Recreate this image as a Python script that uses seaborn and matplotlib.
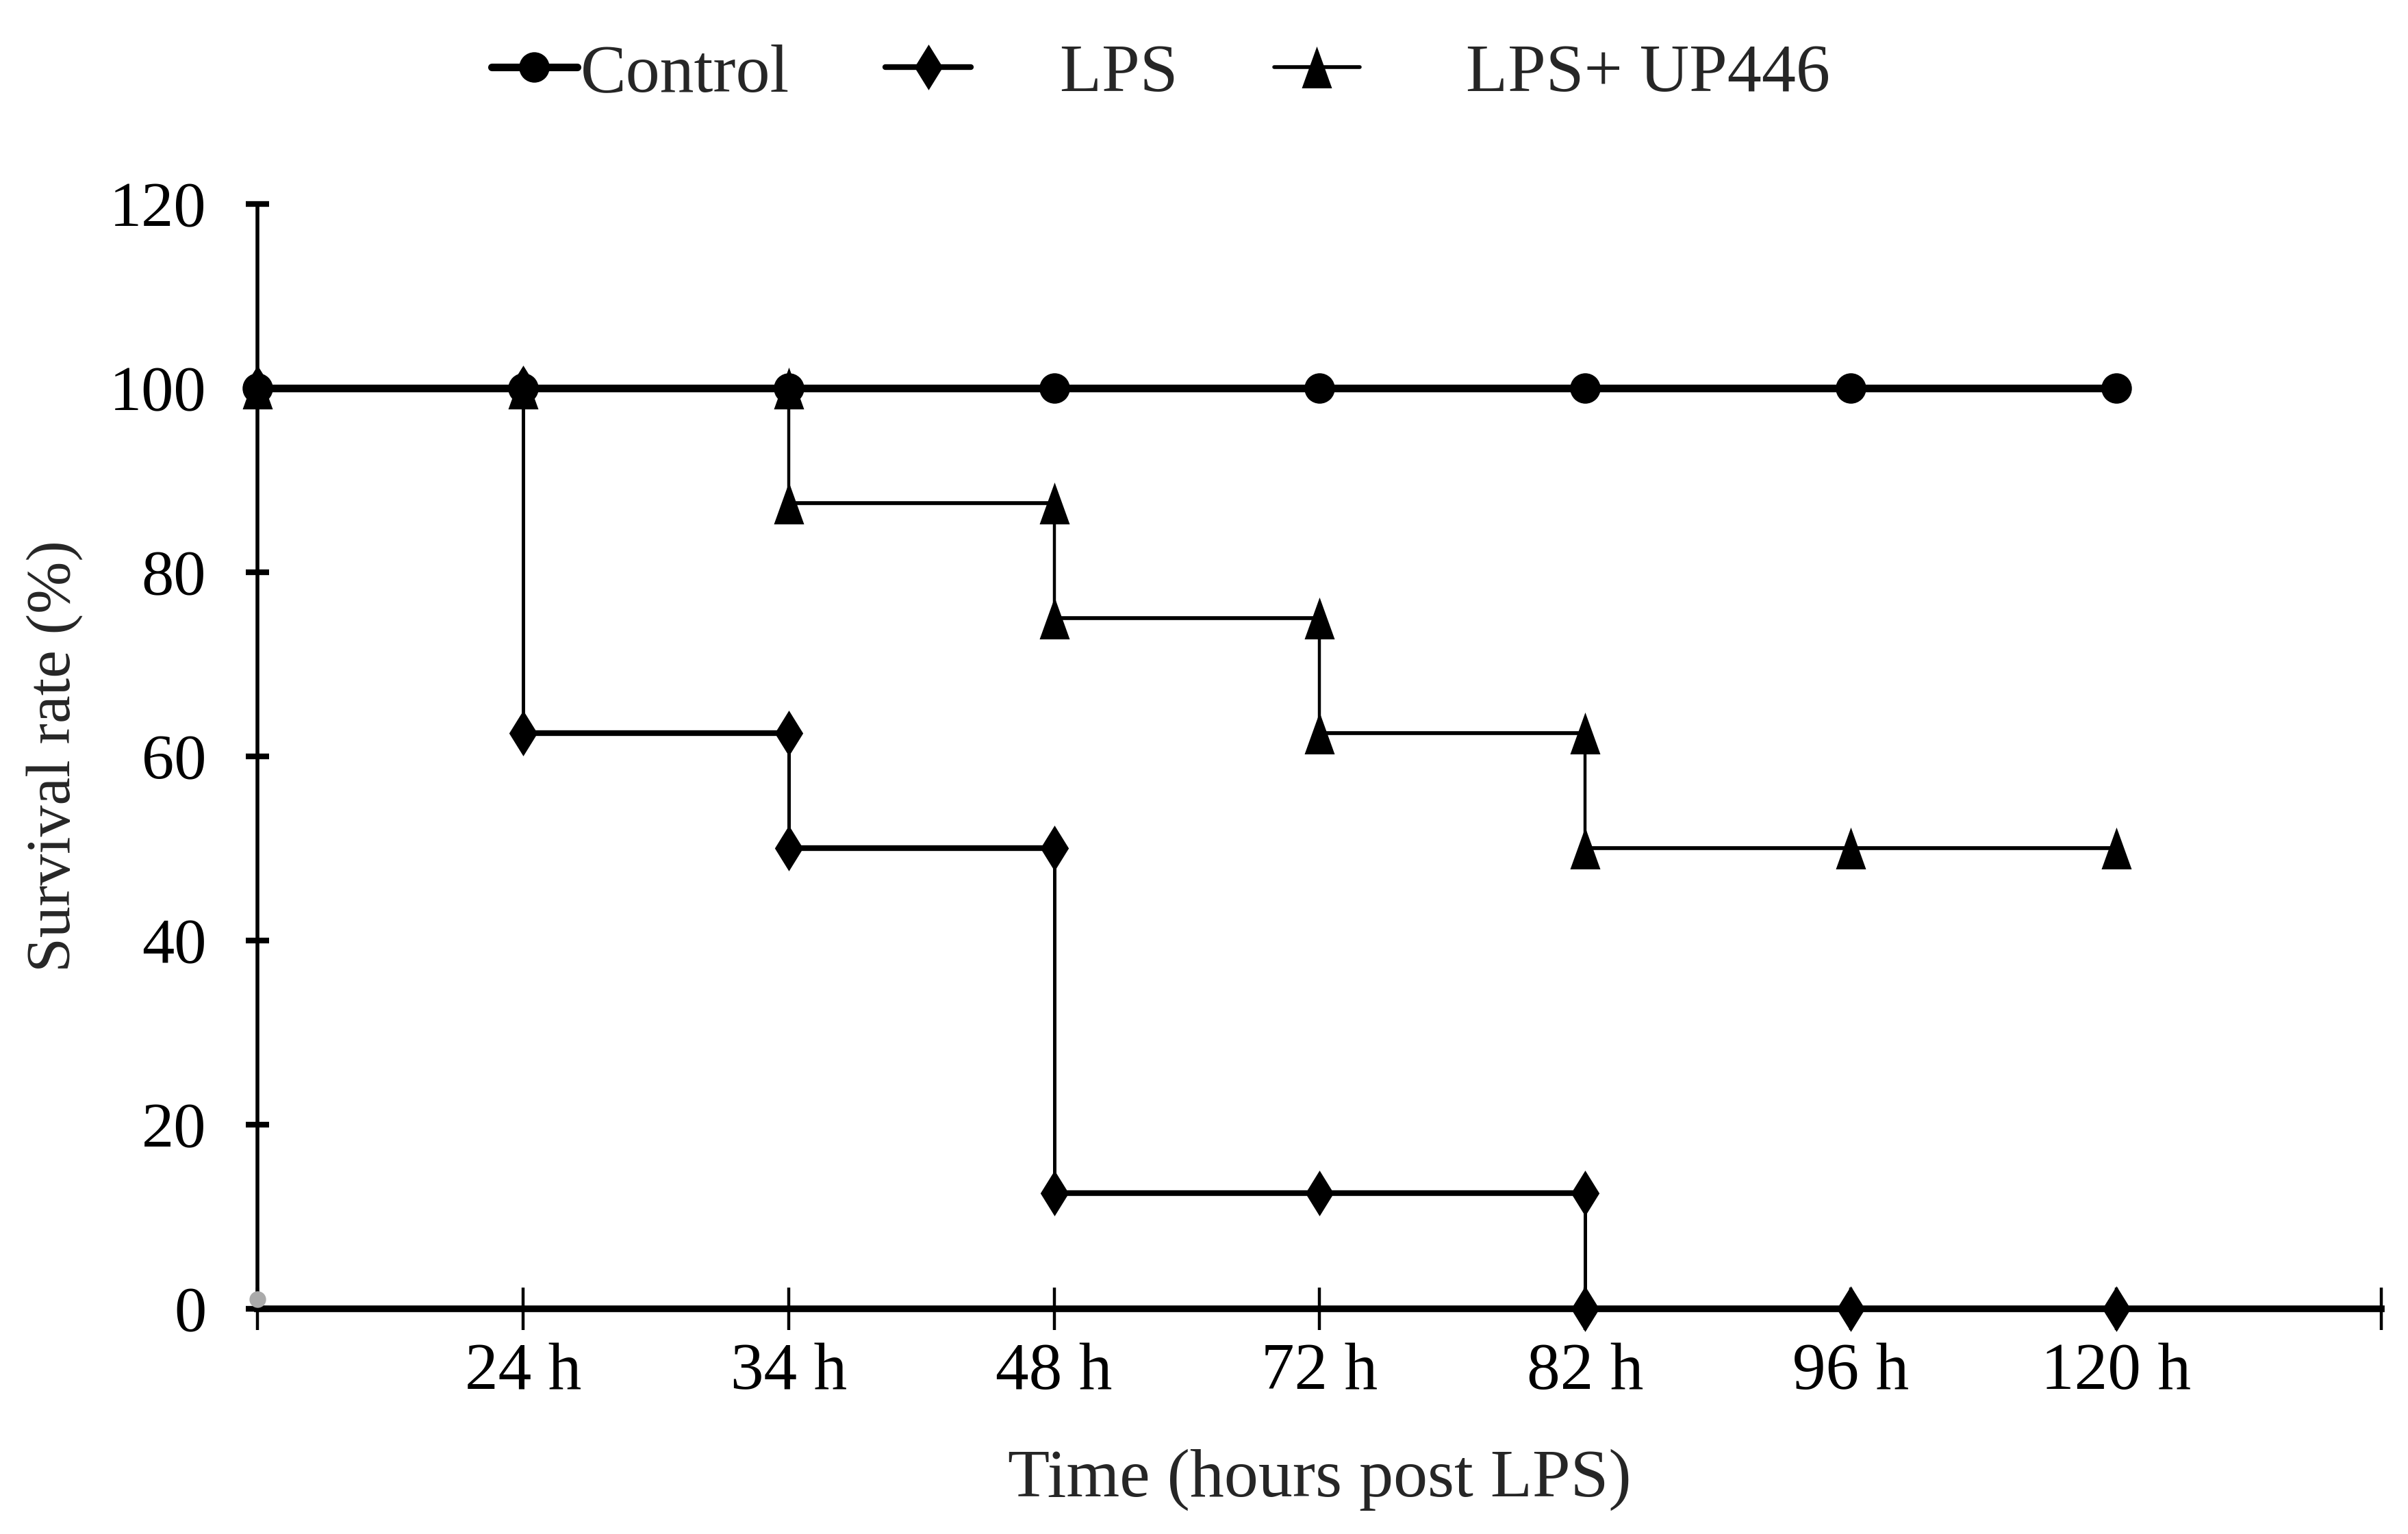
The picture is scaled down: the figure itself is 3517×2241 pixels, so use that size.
import matplotlib
matplotlib.use("Agg")
import matplotlib.pyplot as plt
import seaborn as sns
import pandas as pd

# time points are drawn at equal spacing (category index)
time_labels = ["", "24 h", "34 h", "48 h", "72 h", "82 h", "96 h", "120 h", ""]

# each step is stored as two points at the same time (before / after the drop)
control_x = [0, 1, 2, 3, 4, 5, 6, 7]
control_y = [100, 100, 100, 100, 100, 100, 100, 100]

lps_x = [0, 1, 1, 2, 2, 3, 3, 4, 5, 5, 6, 7]
lps_y = [100, 100, 62.5, 62.5, 50, 50, 12.5, 12.5, 12.5, 0, 0, 0]

up446_x = [0, 1, 2, 2, 3, 3, 4, 4, 5, 5, 6, 7]
up446_y = [100, 100, 100, 87.5, 87.5, 75, 75, 62.5, 62.5, 50, 50, 50]

origin_x = [0]
origin_y = [1]

sns.set_theme(style="white")
plt.rcParams["font.family"] = ["Liberation Serif", "DejaVu Serif"]

diamond = [(0, 1), (0.62, 0), (0, -1), (-0.62, 0)]
triangle = [(-0.72, -1), (0.72, -1), (0, 1)]

fig = plt.figure(figsize=(17.585, 11.205), dpi=200)
ax = fig.add_axes([0.107, 0.147, 0.882, 0.72])

series = [
    ("Control", control_x, control_y, "o", 16, 4.0, 4.0),
    ("     LPS", lps_x, lps_y, diamond, 24, 1.8, 3.0),
    ("      LPS+ UP446", up446_x, up446_y, triangle, 22, 1.6, 2.0),
]

handles = []
for label, xs, ys, mk, ms, lw_v, lw_h in series:
    df = pd.DataFrame({"x": xs, "y": ys})
    sns.lineplot(data=df, x="x", y="y", sort=False, estimator=None, ax=ax,
                 color="black", lw=lw_v, marker=mk, markersize=ms,
                 markeredgewidth=0, legend=False, zorder=4, clip_on=False)
    # horizontal runs look heavier in the original figure
    for i in range(len(xs) - 1):
        if ys[i] == ys[i + 1]:
            ax.plot([xs[i], xs[i + 1]], [ys[i], ys[i + 1]], color="black",
                    lw=lw_h, solid_capstyle="butt", zorder=3, clip_on=False)
    h, = ax.plot([], [], color="black", lw=lw_h, marker=mk, markersize=ms,
                 markeredgewidth=0, label=label)
    handles.append(h)

ax.scatter(origin_x, origin_y, s=60, color="#aaaaaa", zorder=5, clip_on=False)

ax.set_xlim(0, 8)
ax.set_ylim(0, 120)
ax.set_xticks(range(len(time_labels)))
ax.set_xticklabels(time_labels)
ax.set_yticks([0, 20, 40, 60, 80, 100, 120])

for side in ["top", "right"]:
    ax.spines[side].set_visible(False)
ax.spines["left"].set_linewidth(2.0)
ax.spines["bottom"].set_linewidth(3.5)
ax.spines["left"].set_color("black")
ax.spines["bottom"].set_color("black")

ax.tick_params(axis="x", bottom=True, direction="inout", length=22, width=1.6,
               labelsize=35, pad=7, colors="black")
ax.tick_params(axis="y", left=True, direction="inout", length=12, width=3,
               labelsize=34, pad=21, colors="black")

ax.set_xlabel("Time (hours post LPS)", fontsize=36, labelpad=24)
ax.set_ylabel("Survival rate (%)", fontsize=33, labelpad=14)

fig.legend(handles=handles, loc="upper center", bbox_to_anchor=(0.482, 1.012),
           ncol=3, frameon=False, fontsize=36, handlelength=1.25,
           handletextpad=0.05, columnspacing=1.4)

fig.savefig("out.png", dpi=200, facecolor="white")
